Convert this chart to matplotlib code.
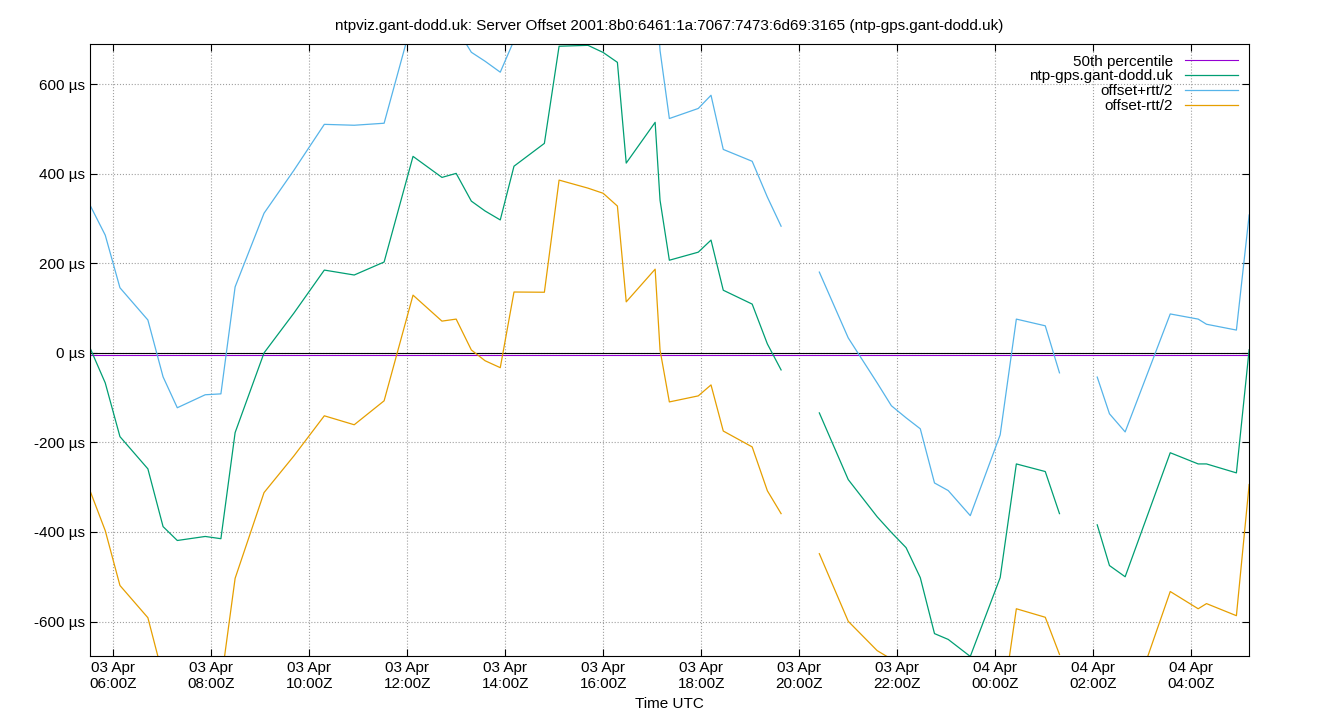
import numpy as np
import matplotlib.pyplot as plt
from datetime import datetime, timedelta

plt.rcParams['font.family'] = ['Liberation Sans', 'DejaVu Sans']

# hours since 03 Apr 00:00Z; NaN marks gaps in the data
hours = [5.53, 5.84, 6.14, 6.71, 7.02, 7.31, 7.88, 8.20, 8.49, 9.08, 9.69, 10.31,
         10.92, 11.53, 12.12, 12.71, 13.0, 13.31, 13.59, 13.9, 14.18, 14.8, 15.1,
         15.69, 16.0, 16.29, 16.47, 17.06, 17.16, 17.35, 17.94, 18.2, 18.45, 19.04,
         19.35, 19.63, np.nan, 20.41, 21.0, 21.59, 21.88, 22.18, 22.47, 22.76, 23.04,
         23.49, 24.1, 24.43, 25.02, 25.31, np.nan, 26.08, 26.33, 26.65, 27.57, 28.14,
         28.31, 28.92, 29.18]
offset_us = [11, -67, -187, -259, -388, -419, -410, -415, -178, 0, 89, 185,
             174, 203, 439, 392, 401, 339, 317, 297, 417, 468, 685,
             687, 671, 649, 424, 515, 341, 207, 225, 252, 140, 109,
             20, -38, np.nan, -134, -283, -366, -401, -435, -502, -627, -640,
             -678, -502, -248, -265, -359, np.nan, -384, -475, -500, -223, -248,
             -248, -268, 7]
rtt_us = [638, 660, 665, 665, 669, 593, 633, 647, 651, 624, 638, 651,
          669, 620, 620, 642, 651, 665, 669, 660, 562, 665, 598,
          638, 629, 642, 620, 656, 669, 633, 642, 647, 629, 638,
          656, 642, np.nan, 629, 633, 598, 566, 580, 665, 673, 665,
          629, 638, 647, 651, 629, np.nan, 660, 678, 647, 620, 647,
          624, 638, 602]
median_us = -5

h = np.array(hours)
off = np.array(offset_us, dtype=float)
rtt = np.array(rtt_us, dtype=float)

fig = plt.figure(figsize=(13.4, 7.2), dpi=100)
ax = fig.add_axes([0.0672, 0.0889, 0.865, 0.85])

ax.axhline(0, color='black', lw=0.8)
ax.axhline(median_us, color='#9400d3', lw=0.8, label='50th percentile')
ax.plot(h, off, color='#009e73', lw=0.9, label='ntp-gps.gant-dodd.uk')
ax.plot(h, off + rtt / 2, color='#56b4e9', lw=0.9, label='offset+rtt/2')
ax.plot(h, off - rtt / 2, color='#e69f00', lw=0.9, label='offset-rtt/2')

ax.set_xlim(5.53, 29.18)
ax.set_ylim(-677, 690)

xt = np.arange(6, 29, 2)
base = datetime(2024, 4, 3)
ax.set_xticks(xt)
ax.set_xticklabels([(base + timedelta(hours=int(t))).strftime('%d Apr\n%H:%MZ') for t in xt])
yt = np.arange(-600, 601, 200)
ax.set_yticks(yt)
ax.set_yticklabels([f'{v} µs' for v in yt])
ax.tick_params(direction='in', labelsize=11, top=True, right=True, length=5)
ax.grid(True, color='#a0a0a0', ls=':', lw=0.8)
ax.set_xlabel('Time UTC', fontsize=11)
ax.set_title('ntpviz.gant-dodd.uk: Server Offset 2001:8b0:6461:1a:7067:7473:6d69:3165 (ntp-gps.gant-dodd.uk)',
             fontsize=11, pad=10)

leg = ax.legend(loc='upper right', frameon=False, fontsize=11, markerfirst=False,
                handlelength=3.5, labelspacing=0.05, borderaxespad=0.3)
for t in leg.get_texts():
    t.set_ha('right')

fig.savefig('out.png', dpi=100)
